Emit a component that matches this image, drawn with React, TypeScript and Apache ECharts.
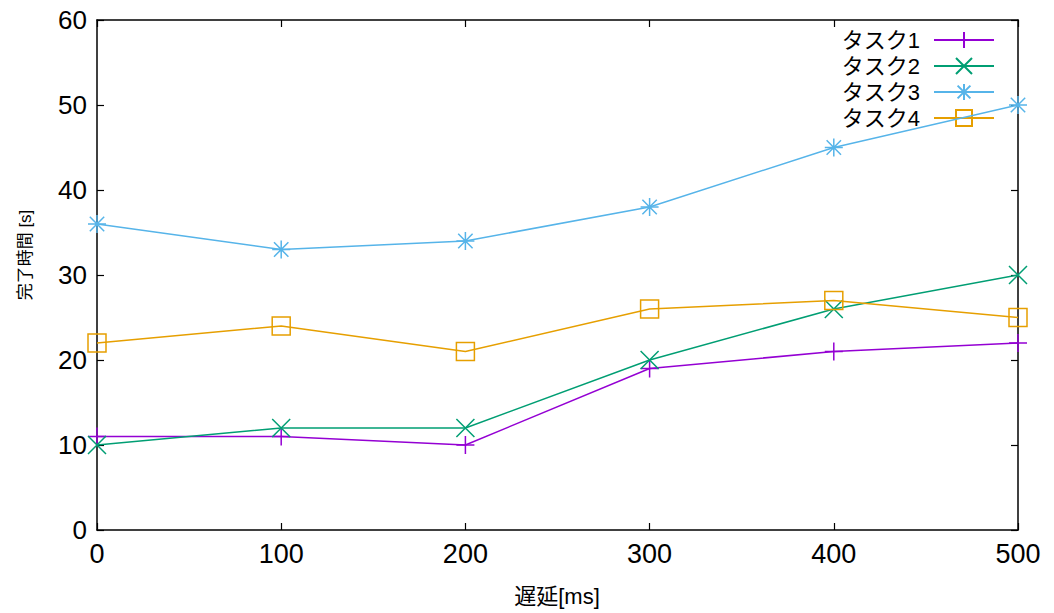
import React, { useEffect, useRef } from "react";
import * as echarts from "echarts";

const delays = [0, 100, 200, 300, 400, 500];
const task1 = [11, 11, 10, 19, 21, 22];
const task2 = [10, 12, 12, 20, 26, 30];
const task3 = [36, 33, 34, 38, 45, 50];
const task4 = [22, 24, 21, 26, 27, 25];
const seriesNames = ["タスク1", "タスク2", "タスク3", "タスク4"];
const colors = ["#9400D3", "#009E73", "#56B4E9", "#E69F00"];
const xAxisName = "遅延[ms]";
const yAxisName = "完了時間 [s]";

const PLUS = "path://M10,0L10,20M0,10L20,10";
const CROSS = "path://M0,0L20,20M20,0L0,20";
const STAR = "path://M10,0L10,20M0,10L20,10M2,2L18,18M18,2L2,18";
const SQUARE = "path://M0,0L20,0L20,20L0,20Z";
const symbols = [PLUS, CROSS, STAR, SQUARE];
const sizes = [18, 18, 18, 18];

const FONT = "'Liberation Sans', Arial, 'Noto Sans CJK JP', sans-serif";

export default function App() {
  const ref = useRef<HTMLDivElement>(null);
  useEffect(() => {
    if (!ref.current) return;
    const chart = echarts.init(ref.current, undefined, { renderer: "svg" });
    const data = [task1, task2, task3, task4];
    const axisLine = { show: true, onZero: false, lineStyle: { color: "#000", width: 1.5 } };
    const tick = { show: true, inside: true, length: 7, lineStyle: { color: "#000", width: 1.2 } };
    chart.setOption({
      animation: false,
      backgroundColor: "#fff",
      textStyle: { fontFamily: FONT },
      grid: { left: 97, right: 36, top: 20, bottom: 83, show: false },
      xAxis: [
        {
          type: "value", min: 0, max: 500, interval: 100, position: "bottom",
          axisLine, axisTick: tick, splitLine: { show: false },
          axisLabel: { fontSize: 27, color: "#000", margin: 10, fontFamily: FONT },
        },
        {
          type: "value", min: 0, max: 500, interval: 100, position: "top",
          axisLine, axisTick: tick, splitLine: { show: false }, axisLabel: { show: false },
        },
      ],
      yAxis: [
        {
          type: "value", min: 0, max: 60, interval: 10, position: "left",
          axisLine, axisTick: tick, splitLine: { show: false },
          axisLabel: { fontSize: 26, color: "#000", margin: 10, fontFamily: FONT },
        },
        {
          type: "value", min: 0, max: 60, interval: 10, position: "right",
          axisLine, axisTick: tick, splitLine: { show: false }, axisLabel: { show: false },
        },
      ],
      legend: {
        orient: "vertical",
        align: "right",
        right: 54,
        top: 24,
        itemWidth: 60,
        itemHeight: 20,
        itemGap: 4,
        textStyle: { fontSize: 22, lineHeight: 20, color: "#000", fontFamily: FONT, padding: [0, 9, 0, 0] },
        data: seriesNames,
      },
      graphic: [
        {
          type: "text", x: 557, y: 596,
          style: { text: xAxisName, fill: "#000", font: `22px ${FONT}`, align: "center", verticalAlign: "middle" },
        },
        {
          type: "text", x: 25, y: 255, rotation: Math.PI / 2,
          style: { text: yAxisName, fill: "#000", font: `17px ${FONT}`, align: "center", verticalAlign: "middle" },
        },
      ],
      series: seriesNames.map((name, i) => ({
        name,
        type: "line",
        xAxisIndex: 0,
        yAxisIndex: 0,
        data: delays.map((d, j) => [d, data[i][j]]),
        symbol: symbols[i],
        symbolSize: sizes[i],
        showAllSymbol: true,
        color: colors[i],
        lineStyle: { color: colors[i], width: 1.5 },
        itemStyle: { color: "rgba(0,0,0,0)", borderColor: colors[i], borderWidth: 1.5 },
        emphasis: { disabled: true },
        z: 2 + i,
      })),
    });
    return () => chart.dispose();
  }, []);
  return (
    <div
      ref={ref}
      style={{ position: "fixed", left: 0, top: 0, width: 1054, height: 613, background: "#fff" }}
    />
  );
}
